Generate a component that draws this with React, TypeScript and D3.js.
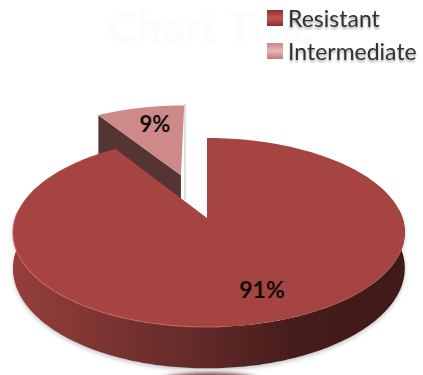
import React from "react";
import * as d3 from "d3";

const categories = ["Resistant", "Intermediate"];
const shares = [91, 9];
const topColors = ["#a64442", "#cd8a88"];
const titleText = "Chart Title";

const WIDTH = 423;
const HEIGHT = 375;

// Perspective of the tilted disc: pie-plane coordinates to screen pixels.
const centerX = 207;
const centerY = 218;
const radiusX = 193.6;
const radiusSkew = 1.9;
const radiusY = 92.3;
const foreshorten = 0.153;
const explodeOffset = 0.52;

type P = [number, number];

const project = (u: number, v: number, depth = 0): P => {
  const w = 1 + foreshorten * v;
  return [centerX + ((radiusX + radiusSkew * u) * u) / w, centerY + (-radiusY * v + depth) / w];
};

const pieLayout = d3.pie<number>().sort(null).startAngle(0).endAngle(2 * Math.PI);
const arcs = pieLayout(shares);
const toPath = d3.line<P>();

// Samples a rim between two pie angles, shifted by (ou, ov) in the pie plane.
const rim = (a0: number, a1: number, ou = 0, ov = 0, depth = 0): P[] =>
  d3.range(0, 201).map((i) => {
    const a = a0 + ((a1 - a0) * i) / 200;
    return project(Math.sin(a) + ou, Math.cos(a) + ov, depth);
  });

const mainArc = arcs[0];
const sideArc = arcs[1];
const midSide = (sideArc.startAngle + sideArc.endAngle) / 2;
const ou = Math.sin(midSide) * explodeOffset;
const ov = Math.cos(midSide) * explodeOffset;

const mainTop = toPath([project(0, 0), ...rim(mainArc.startAngle, mainArc.endAngle)])! + "Z";

// Front wall of the large slice: from the right extreme round to the left extreme.
const wallDepth = 35;
const front = rim(Math.PI * 0.47, Math.PI * 1.53);
const frontLow = rim(Math.PI * 1.53, Math.PI * 0.47, 0, 0, wallDepth);
const mainWall = toPath([...front, ...frontLow])! + "Z";
const rimLight = toPath(rim(Math.PI * 0.98, Math.PI * 1.52))!;

// Exploded slice: a raised top and its dark inner wall.
const sideDepth = 48;
const sideTop =
  toPath([project(ou, ov), ...rim(sideArc.startAngle, sideArc.endAngle, ou, ov)])! + "Z";
const edgeOuter = Math.sin(sideArc.startAngle);
const edgeOuterV = Math.cos(sideArc.startAngle);
const sideWall =
  toPath([
    project(ou, ov),
    project(edgeOuter + ou, edgeOuterV + ov),
    project(edgeOuter + ou, edgeOuterV + ov, sideDepth),
    project(ou, ov, sideDepth),
  ])! + "Z";

const wallStops: [number, string][] = [
  [0, "#963f3c"],
  [0.22, "#7d3532"],
  [0.5, "#5f2927"],
  [0.72, "#451c1a"],
  [1, "#3f1a17"],
];

const legendY = [18, 51];
const legendStops = [
  ["#8c2f2d", "#c25654", "#8a2f2d"],
  ["#c98684", "#e9b7b5", "#bf7a78"],
];

export default function App() {
  return (
    <svg
      width={WIDTH}
      height={HEIGHT}
      viewBox={`0 0 ${WIDTH} ${HEIGHT}`}
      style={{ position: "absolute", left: 0, top: 0, background: "#fff" }}
    >
      <defs>
        <linearGradient id="wall" x1="13" x2="405" y1="0" y2="0" gradientUnits="userSpaceOnUse">
          {wallStops.map(([o, c]) => (
            <stop key={o} offset={o} stopColor={c} />
          ))}
        </linearGradient>
        {legendStops.map((s, i) => (
          <linearGradient key={i} id={`key${i}`} x1="0" x2="0" y1="0" y2="1">
            <stop offset="0" stopColor={s[0]} />
            <stop offset="0.5" stopColor={s[1]} />
            <stop offset="1" stopColor={s[2]} />
          </linearGradient>
        ))}
        <filter id="soft" x="-10%" y="-10%" width="120%" height="120%">
          <feGaussianBlur stdDeviation="2.2" />
        </filter>
        <filter id="textShadow" x="-5%" y="-20%" width="110%" height="150%">
          <feGaussianBlur in="SourceAlpha" stdDeviation="0.9" />
          <feOffset dy="2" />
          <feComponentTransfer>
            <feFuncA type="linear" slope="0.35" />
          </feComponentTransfer>
          <feMerge>
            <feMergeNode />
            <feMergeNode in="SourceGraphic" />
          </feMerge>
        </filter>
      </defs>

      <text
        x={108}
        y={43}
        fontFamily="Lato, sans-serif"
        fontWeight={700}
        fontSize={44}
        fill="#fcfcfc"
      >
        {titleText}
      </text>

      {/* Soft ground shadow and the reflection under the disc */}
      <path d={mainWall} fill="#8d9296" opacity={0.55} filter="url(#soft)" transform="translate(0,2)" />
      <ellipse cx={210} cy={380} rx={48} ry={7} fill="#6d2a28" filter="url(#soft)" />

      {/* Exploded slice */}
      <path d={sideWall} fill="#553534" />
      <path d={toPath([[185, 104], [185, 200]])!} stroke="#b5b5b5" strokeWidth={1.5} fill="none" opacity={0.6} />
      <path d={sideTop} fill={topColors[1]} />

      {/* Large slice */}
      <path d={mainWall} fill="url(#wall)" />
      <path d={toPath([[208, 173], [208, 218]])!} stroke="#8a8a8a" strokeWidth={1} fill="none" opacity={0.6} />
      <path d={mainTop} fill={topColors[0]} />
      <path d={rimLight} fill="none" stroke="#c9635f" strokeWidth={1.2} opacity={0.8} />

      {/* Value labels */}
      <text x={155} y={132} textAnchor="middle" fontFamily="Lato, sans-serif" fontWeight={700} fontSize={22} fill="#120c0c">
        {shares[1]}%
      </text>
      <text x={262} y={298} textAnchor="middle" fontFamily="Lato, sans-serif" fontWeight={700} fontSize={23} fill="#120c0c">
        {shares[0]}%
      </text>

      {/* Legend */}
      {categories.map((name, i) => (
        <g key={name}>
          <rect x={267} y={legendY[i] - 8} width={16} height={16} fill={`url(#key${i})`} />
          <text
            x={288}
            y={legendY[i] + 9}
            fontFamily="Lato, sans-serif"
            fontSize={23}
            fill="#333"
            filter="url(#textShadow)"
          >
            {name}
          </text>
        </g>
      ))}
    </svg>
  );
}
